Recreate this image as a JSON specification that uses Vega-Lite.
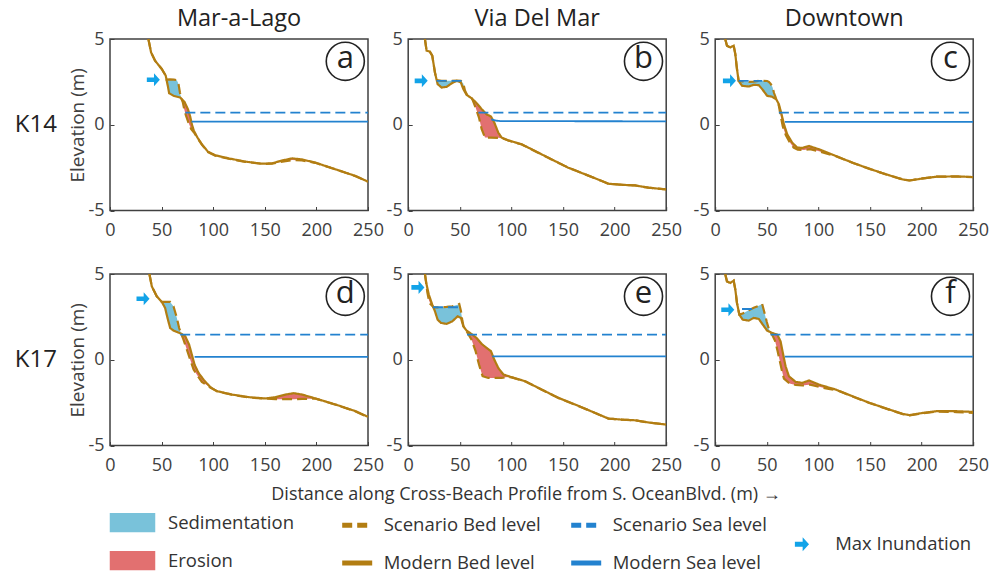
{
"$schema":"https://vega.github.io/schema/vega-lite/v6.json",
"padding":{"left":14,"top":6,"right":5,"bottom":5},
"background":"white",
"config":{
 "font":"Open Sans",
 "view":{"stroke":"#404040","strokeWidth":1.5},
 "axis":{"grid":false,"domain":false,"tickSize":-4,"tickColor":"#404040","tickWidth":1,"labelFontSize":18,"labelColor":"#404040","titleFontSize":19,"titleFontWeight":"normal","titleColor":"#404040","labelFlush":false},
 "header":{"labelFont":"Open Sans"}
},
"datasets":{
"panels":[{"p":"a","site":"K14","loc":"Mar-a-Lago"},{"p":"b","site":"K14","loc":"Via Del Mar"},{"p":"c","site":"K14","loc":"Downtown"},{"p":"d","site":"K17","loc":"Mar-a-Lago"},{"p":"e","site":"K17","loc":"Via Del Mar"},{"p":"f","site":"K17","loc":"Downtown"}],
"d":[
{"p":"a","k":"L"},{"p":"b","k":"L"},{"p":"c","k":"L"},{"p":"d","k":"L"},{"p":"e","k":"L"},{"p":"f","k":"L"},
{"p":"a","k":"mi","x":42,"y":2.62},{"p":"b","k":"mi","x":12.6,"y":2.56},{"p":"c","k":"mi","x":13.8,"y":2.56},{"p":"d","k":"mi","x":32,"y":3.56},{"p":"e","k":"mi","x":9.4,"y":4.22},{"p":"f","k":"mi","x":12.2,"y":2.92},
{"p":"a","k":"ms","g":1,"x":79,"y":0.18},{"p":"a","k":"ms","g":1,"x":250,"y":0.18},
{"p":"a","k":"ss","g":1,"x":73,"y":0.71},{"p":"a","k":"ss","g":1,"x":250,"y":0.71},
{"p":"b","k":"ms","g":1,"x":80.5,"y":0.32},{"p":"b","k":"ms","g":1,"x":85,"y":0.24},{"p":"b","k":"ms","g":1,"x":90,"y":0.21},{"p":"b","k":"ms","g":1,"x":250,"y":0.2},
{"p":"b","k":"ss","g":1,"x":68,"y":0.71},{"p":"b","k":"ss","g":1,"x":250,"y":0.71},
{"p":"b","k":"ss","g":2,"x":27.5,"y":2.56},{"p":"b","k":"ss","g":2,"x":55,"y":2.56},
{"p":"c","k":"ms","g":1,"x":67.5,"y":0.17},{"p":"c","k":"ms","g":1,"x":250,"y":0.17},
{"p":"c","k":"ss","g":1,"x":61.7,"y":0.71},{"p":"c","k":"ss","g":1,"x":250,"y":0.71},
{"p":"c","k":"ss","g":2,"x":22.7,"y":2.56},{"p":"c","k":"ss","g":2,"x":45.5,"y":2.56},
{"p":"d","k":"ms","g":1,"x":82,"y":0.17},{"p":"d","k":"ms","g":1,"x":250,"y":0.17},
{"p":"d","k":"ss","g":1,"x":68,"y":1.47},{"p":"d","k":"ss","g":1,"x":250,"y":1.47},
{"p":"e","k":"ms","g":1,"x":81.5,"y":0.2},{"p":"e","k":"ms","g":1,"x":250,"y":0.2},
{"p":"e","k":"ss","g":1,"x":57,"y":1.47},{"p":"e","k":"ss","g":1,"x":250,"y":1.47},
{"p":"e","k":"ss","g":2,"x":24,"y":3.06},{"p":"e","k":"ss","g":2,"x":48.5,"y":3.06},
{"p":"f","k":"ms","g":1,"x":67.5,"y":0.18},{"p":"f","k":"ms","g":1,"x":250,"y":0.18},
{"p":"f","k":"ss","g":1,"x":53.6,"y":1.47},{"p":"f","k":"ss","g":1,"x":250,"y":1.47},
{"p":"f","k":"ss","g":2,"x":26,"y":2.96},{"p":"f","k":"ss","g":2,"x":39,"y":2.96},

{"p":"a","k":"mb","x":37.2,"y":5},{"p":"a","k":"mb","x":39.8,"y":4.22},{"p":"a","k":"mb","x":43.7,"y":3.73},{"p":"a","k":"mb","x":50.2,"y":3.25},{"p":"a","k":"mb","x":54,"y":2.86},{"p":"a","k":"mb","x":56,"y":2.27},{"p":"a","k":"mb","x":57.3,"y":1.84},{"p":"a","k":"mb","x":61.5,"y":1.69},{"p":"a","k":"mb","x":68,"y":1.59},{"p":"a","k":"mb","x":72.2,"y":1.33},{"p":"a","k":"mb","x":75.5,"y":0.91},{"p":"a","k":"mb","x":77.7,"y":0.48},{"p":"a","k":"mb","x":79.3,"y":0.03},{"p":"a","k":"mb","x":81.3,"y":-0.36},{"p":"a","k":"mb","x":84.8,"y":-0.75},{"p":"a","k":"mb","x":89,"y":-1.14},{"p":"a","k":"mb","x":94.9,"y":-1.57},{"p":"a","k":"mb","x":102,"y":-1.78},{"p":"a","k":"mb","x":115,"y":-1.96},{"p":"a","k":"mb","x":131,"y":-2.15},{"p":"a","k":"mb","x":147,"y":-2.27},{"p":"a","k":"mb","x":157,"y":-2.25},{"p":"a","k":"mb","x":167,"y":-2.08},{"p":"a","k":"mb","x":176.5,"y":-1.96},{"p":"a","k":"mb","x":186,"y":-2.02},{"p":"a","k":"mb","x":199,"y":-2.21},{"p":"a","k":"mb","x":218.6,"y":-2.6},{"p":"a","k":"mb","x":238,"y":-2.99},{"p":"a","k":"mb","x":250,"y":-3.32},

{"p":"a","k":"sb","x":37.2,"y":5},{"p":"a","k":"sb","x":39.8,"y":4.22},{"p":"a","k":"sb","x":43.7,"y":3.73},{"p":"a","k":"sb","x":50.2,"y":3.25},{"p":"a","k":"sb","x":54,"y":2.86},{"p":"a","k":"sb","x":54.8,"y":2.63},{"p":"a","k":"sb","x":58,"y":2.64},{"p":"a","k":"sb","x":62,"y":2.63},{"p":"a","k":"sb","x":64.8,"y":2.6},{"p":"a","k":"sb","x":66.4,"y":2.37},{"p":"a","k":"sb","x":67.7,"y":1.9},{"p":"a","k":"sb","x":69,"y":1.55},{"p":"a","k":"sb","x":70.6,"y":1.3},{"p":"a","k":"sb","x":71.9,"y":0.91},{"p":"a","k":"sb","x":73.5,"y":0.56},{"p":"a","k":"sb","x":76,"y":0.13},{"p":"a","k":"sb","x":78.7,"y":-0.26},{"p":"a","k":"sb","x":82,"y":-0.5},{"p":"a","k":"sb","x":84.8,"y":-0.78},{"p":"a","k":"sb","x":89,"y":-1.16},{"p":"a","k":"sb","x":94.9,"y":-1.6},{"p":"a","k":"sb","x":102,"y":-1.8},{"p":"a","k":"sb","x":115,"y":-1.98},{"p":"a","k":"sb","x":131,"y":-2.16},{"p":"a","k":"sb","x":147,"y":-2.28},{"p":"a","k":"sb","x":157,"y":-2.27},{"p":"a","k":"sb","x":167,"y":-2.15},{"p":"a","k":"sb","x":176.5,"y":-2.06},{"p":"a","k":"sb","x":186,"y":-2.08},{"p":"a","k":"sb","x":199,"y":-2.22},{"p":"a","k":"sb","x":218.6,"y":-2.6},{"p":"a","k":"sb","x":238,"y":-3.0},{"p":"a","k":"sb","x":250,"y":-3.32},

{"p":"a","k":"sed","g":1,"x":54.8,"y":2.62,"y2":2.63},{"p":"a","k":"sed","g":1,"x":56,"y":2.27,"y2":2.64},{"p":"a","k":"sed","g":1,"x":57.3,"y":1.84,"y2":2.64},{"p":"a","k":"sed","g":1,"x":61.5,"y":1.69,"y2":2.63},{"p":"a","k":"sed","g":1,"x":64.8,"y":1.64,"y2":2.6},{"p":"a","k":"sed","g":1,"x":66.4,"y":1.61,"y2":2.37},{"p":"a","k":"sed","g":1,"x":67.7,"y":1.59,"y2":1.9},{"p":"a","k":"sed","g":1,"x":69,"y":1.55,"y2":1.55},
{"p":"a","k":"ero","g":2,"x":69,"y":1.55,"y2":1.55},{"p":"a","k":"ero","g":2,"x":70.6,"y":1.43,"y2":1.3},{"p":"a","k":"ero","g":2,"x":71.9,"y":1.35,"y2":0.91},{"p":"a","k":"ero","g":2,"x":73.5,"y":1.16,"y2":0.56},{"p":"a","k":"ero","g":2,"x":76,"y":0.81,"y2":0.13},{"p":"a","k":"ero","g":2,"x":78.7,"y":0.2,"y2":-0.26},{"p":"a","k":"ero","g":2,"x":82,"y":-0.44,"y2":-0.5},{"p":"a","k":"ero","g":2,"x":84.8,"y":-0.75,"y2":-0.78},
{"p":"a","k":"ero","g":3,"x":157,"y":-2.25,"y2":-2.27},{"p":"a","k":"ero","g":3,"x":167,"y":-2.08,"y2":-2.15},{"p":"a","k":"ero","g":3,"x":176.5,"y":-1.96,"y2":-2.06},{"p":"a","k":"ero","g":3,"x":186,"y":-2.02,"y2":-2.08},{"p":"a","k":"ero","g":3,"x":199,"y":-2.21,"y2":-2.22},

{"p":"b","k":"mb","x":16.2,"y":5},{"p":"b","k":"mb","x":17.8,"y":4.32},{"p":"b","k":"mb","x":21,"y":4.26},{"p":"b","k":"mb","x":23.3,"y":4.03},{"p":"b","k":"mb","x":25.9,"y":3.05},{"p":"b","k":"mb","x":28.5,"y":2.37},{"p":"b","k":"mb","x":32.3,"y":2.17},{"p":"b","k":"mb","x":37.2,"y":2.21},{"p":"b","k":"mb","x":42,"y":2.41},{"p":"b","k":"mb","x":46.9,"y":2.56},{"p":"b","k":"mb","x":51,"y":2.47},{"p":"b","k":"mb","x":53.4,"y":2.08},{"p":"b","k":"mb","x":56.6,"y":1.74},{"p":"b","k":"mb","x":61.4,"y":1.55},{"p":"b","k":"mb","x":66.3,"y":1.26},{"p":"b","k":"mb","x":71.2,"y":0.91},{"p":"b","k":"mb","x":76,"y":0.61},{"p":"b","k":"mb","x":80.2,"y":0.48},{"p":"b","k":"mb","x":83.4,"y":0.13},{"p":"b","k":"mb","x":87.3,"y":-0.46},{"p":"b","k":"mb","x":90.6,"y":-0.75},{"p":"b","k":"mb","x":97,"y":-0.91},{"p":"b","k":"mb","x":110,"y":-1.14},{"p":"b","k":"mb","x":122.9,"y":-1.53},{"p":"b","k":"mb","x":139,"y":-2.02},{"p":"b","k":"mb","x":155,"y":-2.5},{"p":"b","k":"mb","x":171.4,"y":-2.89},{"p":"b","k":"mb","x":187.6,"y":-3.28},{"p":"b","k":"mb","x":194,"y":-3.44},{"p":"b","k":"mb","x":207,"y":-3.5},{"p":"b","k":"mb","x":220,"y":-3.54},{"p":"b","k":"mb","x":232.9,"y":-3.67},{"p":"b","k":"mb","x":250,"y":-3.77},

{"p":"b","k":"sb","x":16.2,"y":5},{"p":"b","k":"sb","x":17.8,"y":4.32},{"p":"b","k":"sb","x":21,"y":4.26},{"p":"b","k":"sb","x":23.3,"y":4.03},{"p":"b","k":"sb","x":25.9,"y":3.05},{"p":"b","k":"sb","x":27.5,"y":2.6},{"p":"b","k":"sb","x":32.3,"y":2.56},{"p":"b","k":"sb","x":37.2,"y":2.56},{"p":"b","k":"sb","x":42,"y":2.56},{"p":"b","k":"sb","x":46.9,"y":2.57},{"p":"b","k":"sb","x":51,"y":2.56},{"p":"b","k":"sb","x":53.4,"y":2.4},{"p":"b","k":"sb","x":55,"y":2.0},{"p":"b","k":"sb","x":56.6,"y":1.8},{"p":"b","k":"sb","x":58.5,"y":1.66},{"p":"b","k":"sb","x":61.4,"y":1.55},{"p":"b","k":"sb","x":62.4,"y":1.45},{"p":"b","k":"sb","x":65.3,"y":1.0},{"p":"b","k":"sb","x":68.6,"y":0.42},{"p":"b","k":"sb","x":71.2,"y":-0.26},{"p":"b","k":"sb","x":74.4,"y":-0.75},{"p":"b","k":"sb","x":80.2,"y":-0.75},{"p":"b","k":"sb","x":87.3,"y":-0.76},{"p":"b","k":"sb","x":90.6,"y":-0.78},{"p":"b","k":"sb","x":97,"y":-0.92},{"p":"b","k":"sb","x":110,"y":-1.15},{"p":"b","k":"sb","x":122.9,"y":-1.54},{"p":"b","k":"sb","x":139,"y":-2.03},{"p":"b","k":"sb","x":155,"y":-2.5},{"p":"b","k":"sb","x":171.4,"y":-2.89},{"p":"b","k":"sb","x":187.6,"y":-3.28},{"p":"b","k":"sb","x":194,"y":-3.44},{"p":"b","k":"sb","x":207,"y":-3.5},{"p":"b","k":"sb","x":220,"y":-3.54},{"p":"b","k":"sb","x":232.9,"y":-3.67},{"p":"b","k":"sb","x":250,"y":-3.77},

{"p":"b","k":"sed","g":1,"x":27.5,"y":2.63,"y2":2.6},{"p":"b","k":"sed","g":1,"x":28.5,"y":2.37,"y2":2.57},{"p":"b","k":"sed","g":1,"x":32.3,"y":2.17,"y2":2.56},{"p":"b","k":"sed","g":1,"x":37.2,"y":2.21,"y2":2.56},{"p":"b","k":"sed","g":1,"x":42,"y":2.41,"y2":2.56},{"p":"b","k":"sed","g":1,"x":46.9,"y":2.56,"y2":2.57},{"p":"b","k":"sed","g":1,"x":51,"y":2.47,"y2":2.56},{"p":"b","k":"sed","g":1,"x":53.4,"y":2.08,"y2":2.4},{"p":"b","k":"sed","g":1,"x":55,"y":1.91,"y2":2.0},{"p":"b","k":"sed","g":1,"x":56.6,"y":1.74,"y2":1.8},{"p":"b","k":"sed","g":1,"x":58.5,"y":1.66,"y2":1.66},
{"p":"b","k":"ero","g":2,"x":61.4,"y":1.55,"y2":1.55},{"p":"b","k":"ero","g":2,"x":62.4,"y":1.49,"y2":1.45},{"p":"b","k":"ero","g":2,"x":65.3,"y":1.32,"y2":1.0},{"p":"b","k":"ero","g":2,"x":68.6,"y":1.1,"y2":0.42},{"p":"b","k":"ero","g":2,"x":71.2,"y":0.91,"y2":-0.26},{"p":"b","k":"ero","g":2,"x":74.4,"y":0.71,"y2":-0.75},{"p":"b","k":"ero","g":2,"x":76,"y":0.61,"y2":-0.75},{"p":"b","k":"ero","g":2,"x":80.2,"y":0.48,"y2":-0.75},{"p":"b","k":"ero","g":2,"x":83.4,"y":0.13,"y2":-0.75},{"p":"b","k":"ero","g":2,"x":87.3,"y":-0.46,"y2":-0.76},{"p":"b","k":"ero","g":2,"x":90.6,"y":-0.75,"y2":-0.78},

{"p":"c","k":"mb","x":9.7,"y":5},{"p":"c","k":"mb","x":11.4,"y":4.61},{"p":"c","k":"mb","x":14.6,"y":4.51},{"p":"c","k":"mb","x":17.9,"y":4.61},{"p":"c","k":"mb","x":19.5,"y":4.12},{"p":"c","k":"mb","x":21.1,"y":3.25},{"p":"c","k":"mb","x":22.7,"y":2.56},{"p":"c","k":"mb","x":26,"y":2.27},{"p":"c","k":"mb","x":32.5,"y":2.23},{"p":"c","k":"mb","x":37.3,"y":2.33},{"p":"c","k":"mb","x":42.2,"y":2.31},{"p":"c","k":"mb","x":45.5,"y":2.08},{"p":"c","k":"mb","x":50.3,"y":1.69},{"p":"c","k":"mb","x":55.2,"y":1.63},{"p":"c","k":"mb","x":59.1,"y":1.49},{"p":"c","k":"mb","x":61.7,"y":1.2},{"p":"c","k":"mb","x":64.3,"y":0.61},{"p":"c","k":"mb","x":66.6,"y":0.03},{"p":"c","k":"mb","x":69.8,"y":-0.56},{"p":"c","k":"mb","x":74.7,"y":-1.05},{"p":"c","k":"mb","x":79.5,"y":-1.33},{"p":"c","k":"mb","x":84.4,"y":-1.35},{"p":"c","k":"mb","x":90.9,"y":-1.24},{"p":"c","k":"mb","x":100.6,"y":-1.43},{"p":"c","k":"mb","x":116.9,"y":-1.82},{"p":"c","k":"mb","x":133,"y":-2.21},{"p":"c","k":"mb","x":149,"y":-2.56},{"p":"c","k":"mb","x":165.6,"y":-2.89},{"p":"c","k":"mb","x":181.8,"y":-3.19},{"p":"c","k":"mb","x":188.3,"y":-3.25},{"p":"c","k":"mb","x":201.3,"y":-3.13},{"p":"c","k":"mb","x":214.3,"y":-3.03},{"p":"c","k":"mb","x":233.8,"y":-3.01},{"p":"c","k":"mb","x":250,"y":-3.05},

{"p":"c","k":"sb","x":9.7,"y":5},{"p":"c","k":"sb","x":11.4,"y":4.61},{"p":"c","k":"sb","x":14.6,"y":4.51},{"p":"c","k":"sb","x":17.9,"y":4.61},{"p":"c","k":"sb","x":19.5,"y":4.12},{"p":"c","k":"sb","x":21.1,"y":3.25},{"p":"c","k":"sb","x":22.7,"y":2.56},{"p":"c","k":"sb","x":26,"y":2.53},{"p":"c","k":"sb","x":32.5,"y":2.5},{"p":"c","k":"sb","x":37.3,"y":2.52},{"p":"c","k":"sb","x":42.2,"y":2.56},{"p":"c","k":"sb","x":47,"y":2.56},{"p":"c","k":"sb","x":50.3,"y":2.55},{"p":"c","k":"sb","x":52,"y":2.5},{"p":"c","k":"sb","x":53.6,"y":2.4},{"p":"c","k":"sb","x":55.5,"y":2.2},{"p":"c","k":"sb","x":57,"y":1.85},{"p":"c","k":"sb","x":58.4,"y":1.62},{"p":"c","k":"sb","x":59.1,"y":1.49},{"p":"c","k":"sb","x":61.7,"y":1.1},{"p":"c","k":"sb","x":63.5,"y":0.5},{"p":"c","k":"sb","x":65.5,"y":-0.1},{"p":"c","k":"sb","x":68.5,"y":-0.62},{"p":"c","k":"sb","x":72,"y":-1.0},{"p":"c","k":"sb","x":76,"y":-1.33},{"p":"c","k":"sb","x":80,"y":-1.45},{"p":"c","k":"sb","x":86,"y":-1.47},{"p":"c","k":"sb","x":92,"y":-1.42},{"p":"c","k":"sb","x":100.6,"y":-1.55},{"p":"c","k":"sb","x":110,"y":-1.72},{"p":"c","k":"sb","x":116.9,"y":-1.83},{"p":"c","k":"sb","x":133,"y":-2.22},{"p":"c","k":"sb","x":149,"y":-2.56},{"p":"c","k":"sb","x":165.6,"y":-2.9},{"p":"c","k":"sb","x":181.8,"y":-3.19},{"p":"c","k":"sb","x":188.3,"y":-3.25},{"p":"c","k":"sb","x":201.3,"y":-3.13},{"p":"c","k":"sb","x":214.3,"y":-3.03},{"p":"c","k":"sb","x":233.8,"y":-3.02},{"p":"c","k":"sb","x":250,"y":-3.06},

{"p":"c","k":"sed","g":1,"x":22.7,"y":2.56,"y2":2.56},{"p":"c","k":"sed","g":1,"x":26,"y":2.27,"y2":2.53},{"p":"c","k":"sed","g":1,"x":32.5,"y":2.23,"y2":2.5},{"p":"c","k":"sed","g":1,"x":37.3,"y":2.33,"y2":2.52},{"p":"c","k":"sed","g":1,"x":42.2,"y":2.31,"y2":2.56},{"p":"c","k":"sed","g":1,"x":45.5,"y":2.08,"y2":2.56},{"p":"c","k":"sed","g":1,"x":47,"y":1.96,"y2":2.56},{"p":"c","k":"sed","g":1,"x":50.3,"y":1.69,"y2":2.55},{"p":"c","k":"sed","g":1,"x":52,"y":1.67,"y2":2.5},{"p":"c","k":"sed","g":1,"x":53.6,"y":1.65,"y2":2.4},{"p":"c","k":"sed","g":1,"x":55.5,"y":1.62,"y2":2.2},{"p":"c","k":"sed","g":1,"x":57,"y":1.57,"y2":1.85},{"p":"c","k":"sed","g":1,"x":58.4,"y":1.52,"y2":1.62},{"p":"c","k":"sed","g":1,"x":59.1,"y":1.49,"y2":1.49},
{"p":"c","k":"ero","g":2,"x":59.1,"y":1.49,"y2":1.49},{"p":"c","k":"ero","g":2,"x":61.7,"y":1.2,"y2":1.1},{"p":"c","k":"ero","g":2,"x":63.5,"y":0.79,"y2":0.5},{"p":"c","k":"ero","g":2,"x":65.5,"y":0.31,"y2":-0.1},{"p":"c","k":"ero","g":2,"x":68.5,"y":-0.32,"y2":-0.62},{"p":"c","k":"ero","g":2,"x":72,"y":-0.78,"y2":-1.0},{"p":"c","k":"ero","g":2,"x":76,"y":-1.13,"y2":-1.33},{"p":"c","k":"ero","g":2,"x":80,"y":-1.33,"y2":-1.45},{"p":"c","k":"ero","g":2,"x":86,"y":-1.32,"y2":-1.47},{"p":"c","k":"ero","g":2,"x":92,"y":-1.26,"y2":-1.42},{"p":"c","k":"ero","g":2,"x":100.6,"y":-1.43,"y2":-1.55},{"p":"c","k":"ero","g":2,"x":110,"y":-1.65,"y2":-1.72},{"p":"c","k":"ero","g":2,"x":116.9,"y":-1.82,"y2":-1.83},

{"p":"d","k":"mb","x":38.2,"y":5},{"p":"d","k":"mb","x":40.5,"y":4.28},{"p":"d","k":"mb","x":45.3,"y":3.7},{"p":"d","k":"mb","x":50.2,"y":3.37},{"p":"d","k":"mb","x":53.4,"y":3.02},{"p":"d","k":"mb","x":55.7,"y":2.44},{"p":"d","k":"mb","x":58.3,"y":1.85},{"p":"d","k":"mb","x":61.5,"y":1.7},{"p":"d","k":"mb","x":69,"y":1.52},{"p":"d","k":"mb","x":72.9,"y":1.37},{"p":"d","k":"mb","x":76.7,"y":0.88},{"p":"d","k":"mb","x":79.3,"y":0.3},{"p":"d","k":"mb","x":81.9,"y":-0.28},{"p":"d","k":"mb","x":85.8,"y":-0.77},{"p":"d","k":"mb","x":90.7,"y":-1.16},{"p":"d","k":"mb","x":97.2,"y":-1.6},{"p":"d","k":"mb","x":103.6,"y":-1.83},{"p":"d","k":"mb","x":118.2,"y":-2.03},{"p":"d","k":"mb","x":134.4,"y":-2.18},{"p":"d","k":"mb","x":150.6,"y":-2.26},{"p":"d","k":"mb","x":160.3,"y":-2.18},{"p":"d","k":"mb","x":170,"y":-2.03},{"p":"d","k":"mb","x":178.1,"y":-1.95},{"p":"d","k":"mb","x":186.2,"y":-2.03},{"p":"d","k":"mb","x":199.2,"y":-2.26},{"p":"d","k":"mb","x":218.6,"y":-2.61},{"p":"d","k":"mb","x":238,"y":-3.0},{"p":"d","k":"mb","x":250,"y":-3.33},

{"p":"d","k":"sb","x":38.2,"y":5},{"p":"d","k":"sb","x":40.5,"y":4.28},{"p":"d","k":"sb","x":45.3,"y":3.7},{"p":"d","k":"sb","x":50.2,"y":3.37},{"p":"d","k":"sb","x":52.5,"y":3.37},{"p":"d","k":"sb","x":55,"y":3.37},{"p":"d","k":"sb","x":58.3,"y":3.37},{"p":"d","k":"sb","x":61.5,"y":3.12},{"p":"d","k":"sb","x":64.8,"y":2.44},{"p":"d","k":"sb","x":67,"y":1.85},{"p":"d","k":"sb","x":69,"y":1.52},{"p":"d","k":"sb","x":71.2,"y":1.17},{"p":"d","k":"sb","x":74.5,"y":0.59},{"p":"d","k":"sb","x":77.7,"y":0.01},{"p":"d","k":"sb","x":81,"y":-0.57},{"p":"d","k":"sb","x":85.8,"y":-1.02},{"p":"d","k":"sb","x":89,"y":-1.29},{"p":"d","k":"sb","x":93,"y":-1.45},{"p":"d","k":"sb","x":97.2,"y":-1.62},{"p":"d","k":"sb","x":103.6,"y":-1.84},{"p":"d","k":"sb","x":118.2,"y":-2.04},{"p":"d","k":"sb","x":134.4,"y":-2.2},{"p":"d","k":"sb","x":150.6,"y":-2.27},{"p":"d","k":"sb","x":160.3,"y":-2.3},{"p":"d","k":"sb","x":170,"y":-2.3},{"p":"d","k":"sb","x":178.1,"y":-2.3},{"p":"d","k":"sb","x":186.2,"y":-2.28},{"p":"d","k":"sb","x":199.2,"y":-2.27},{"p":"d","k":"sb","x":218.6,"y":-2.62},{"p":"d","k":"sb","x":238,"y":-3.02},{"p":"d","k":"sb","x":250,"y":-3.35},

{"p":"d","k":"sed","g":1,"x":50.2,"y":3.37,"y2":3.37},{"p":"d","k":"sed","g":1,"x":52.5,"y":3.12,"y2":3.37},{"p":"d","k":"sed","g":1,"x":53.4,"y":3.02,"y2":3.37},{"p":"d","k":"sed","g":1,"x":55.7,"y":2.44,"y2":3.37},{"p":"d","k":"sed","g":1,"x":58.3,"y":1.85,"y2":3.37},{"p":"d","k":"sed","g":1,"x":61.5,"y":1.7,"y2":3.12},{"p":"d","k":"sed","g":1,"x":64.8,"y":1.62,"y2":2.44},{"p":"d","k":"sed","g":1,"x":67,"y":1.57,"y2":1.85},{"p":"d","k":"sed","g":1,"x":69,"y":1.52,"y2":1.52},
{"p":"d","k":"ero","g":2,"x":69,"y":1.52,"y2":1.52},{"p":"d","k":"ero","g":2,"x":71.2,"y":1.44,"y2":1.17},{"p":"d","k":"ero","g":2,"x":72.9,"y":1.37,"y2":0.87},{"p":"d","k":"ero","g":2,"x":74.5,"y":1.16,"y2":0.59},{"p":"d","k":"ero","g":2,"x":76.7,"y":0.88,"y2":0.19},{"p":"d","k":"ero","g":2,"x":77.7,"y":0.66,"y2":0.01},{"p":"d","k":"ero","g":2,"x":79.3,"y":0.3,"y2":-0.27},{"p":"d","k":"ero","g":2,"x":81,"y":-0.08,"y2":-0.57},{"p":"d","k":"ero","g":2,"x":85.8,"y":-0.77,"y2":-1.02},{"p":"d","k":"ero","g":2,"x":89,"y":-1.02,"y2":-1.29},{"p":"d","k":"ero","g":2,"x":93,"y":-1.32,"y2":-1.45},{"p":"d","k":"ero","g":2,"x":97.2,"y":-1.6,"y2":-1.62},
{"p":"d","k":"ero","g":3,"x":150.6,"y":-2.26,"y2":-2.27},{"p":"d","k":"ero","g":3,"x":160.3,"y":-2.18,"y2":-2.3},{"p":"d","k":"ero","g":3,"x":170,"y":-2.03,"y2":-2.3},{"p":"d","k":"ero","g":3,"x":178.1,"y":-1.95,"y2":-2.3},{"p":"d","k":"ero","g":3,"x":186.2,"y":-2.03,"y2":-2.28},{"p":"d","k":"ero","g":3,"x":199.2,"y":-2.26,"y2":-2.27},

{"p":"e","k":"mb","x":16.2,"y":5},{"p":"e","k":"mb","x":17.8,"y":4.38},{"p":"e","k":"mb","x":20,"y":3.8},{"p":"e","k":"mb","x":23.3,"y":3.21},{"p":"e","k":"mb","x":25.9,"y":2.83},{"p":"e","k":"mb","x":28.5,"y":2.34},{"p":"e","k":"mb","x":31.7,"y":2.15},{"p":"e","k":"mb","x":37.2,"y":2.09},{"p":"e","k":"mb","x":42.7,"y":2.24},{"p":"e","k":"mb","x":47.9,"y":2.53},{"p":"e","k":"mb","x":51.1,"y":2.44},{"p":"e","k":"mb","x":53.4,"y":1.95},{"p":"e","k":"mb","x":56.6,"y":1.7},{"p":"e","k":"mb","x":61.4,"y":1.5},{"p":"e","k":"mb","x":66.3,"y":1.27},{"p":"e","k":"mb","x":71.2,"y":0.92},{"p":"e","k":"mb","x":76,"y":0.69},{"p":"e","k":"mb","x":80.2,"y":0.5},{"p":"e","k":"mb","x":83.4,"y":0.01},{"p":"e","k":"mb","x":87.3,"y":-0.48},{"p":"e","k":"mb","x":92.2,"y":-0.86},{"p":"e","k":"mb","x":100.3,"y":-1.02},{"p":"e","k":"mb","x":113.2,"y":-1.25},{"p":"e","k":"mb","x":129.4,"y":-1.74},{"p":"e","k":"mb","x":145.5,"y":-2.22},{"p":"e","k":"mb","x":161.7,"y":-2.61},{"p":"e","k":"mb","x":181.1,"y":-3.1},{"p":"e","k":"mb","x":194,"y":-3.43},{"p":"e","k":"mb","x":207,"y":-3.49},{"p":"e","k":"mb","x":220,"y":-3.53},{"p":"e","k":"mb","x":232.9,"y":-3.66},{"p":"e","k":"mb","x":250,"y":-3.78},

{"p":"e","k":"sb","x":16.2,"y":5},{"p":"e","k":"sb","x":17.2,"y":4.55},{"p":"e","k":"sb","x":18.5,"y":3.95},{"p":"e","k":"sb","x":20,"y":3.5},{"p":"e","k":"sb","x":21.5,"y":3.25},{"p":"e","k":"sb","x":23.3,"y":3.15},{"p":"e","k":"sb","x":24.3,"y":3.08},{"p":"e","k":"sb","x":26,"y":3.05},{"p":"e","k":"sb","x":31.7,"y":3.05},{"p":"e","k":"sb","x":37.2,"y":3.08},{"p":"e","k":"sb","x":42.7,"y":3.12},{"p":"e","k":"sb","x":47.9,"y":3.2},{"p":"e","k":"sb","x":49.5,"y":3.25},{"p":"e","k":"sb","x":51.1,"y":2.85},{"p":"e","k":"sb","x":52.4,"y":2.3},{"p":"e","k":"sb","x":53.6,"y":1.95},{"p":"e","k":"sb","x":56.6,"y":1.66},{"p":"e","k":"sb","x":61.4,"y":1.17},{"p":"e","k":"sb","x":65.3,"y":0.5},{"p":"e","k":"sb","x":68.6,"y":-0.28},{"p":"e","k":"sb","x":72.1,"y":-0.96},{"p":"e","k":"sb","x":77.6,"y":-1.06},{"p":"e","k":"sb","x":90.6,"y":-1.06},{"p":"e","k":"sb","x":97,"y":-1.0},{"p":"e","k":"sb","x":100.3,"y":-1.03},{"p":"e","k":"sb","x":113.2,"y":-1.26},{"p":"e","k":"sb","x":129.4,"y":-1.75},{"p":"e","k":"sb","x":145.5,"y":-2.23},{"p":"e","k":"sb","x":161.7,"y":-2.62},{"p":"e","k":"sb","x":181.1,"y":-3.1},{"p":"e","k":"sb","x":194,"y":-3.43},{"p":"e","k":"sb","x":207,"y":-3.49},{"p":"e","k":"sb","x":220,"y":-3.53},{"p":"e","k":"sb","x":232.9,"y":-3.66},{"p":"e","k":"sb","x":250,"y":-3.78},

{"p":"e","k":"ero","g":1,"x":16.2,"y":5,"y2":5},{"p":"e","k":"ero","g":1,"x":17.2,"y":4.61,"y2":4.55},{"p":"e","k":"ero","g":1,"x":17.8,"y":4.38,"y2":4.27},{"p":"e","k":"ero","g":1,"x":18.5,"y":4.2,"y2":3.95},{"p":"e","k":"ero","g":1,"x":20,"y":3.8,"y2":3.5},{"p":"e","k":"ero","g":1,"x":21.5,"y":3.53,"y2":3.25},{"p":"e","k":"ero","g":1,"x":23.3,"y":3.21,"y2":3.15},{"p":"e","k":"ero","g":1,"x":24,"y":3.11,"y2":3.1},
{"p":"e","k":"sed","g":2,"x":24,"y":3.11,"y2":3.1},{"p":"e","k":"sed","g":2,"x":25.9,"y":2.83,"y2":3.05},{"p":"e","k":"sed","g":2,"x":28.5,"y":2.34,"y2":3.05},{"p":"e","k":"sed","g":2,"x":31.7,"y":2.15,"y2":3.05},{"p":"e","k":"sed","g":2,"x":37.2,"y":2.09,"y2":3.08},{"p":"e","k":"sed","g":2,"x":42.7,"y":2.24,"y2":3.12},{"p":"e","k":"sed","g":2,"x":47.9,"y":2.53,"y2":3.2},{"p":"e","k":"sed","g":2,"x":49.5,"y":2.49,"y2":3.25},{"p":"e","k":"sed","g":2,"x":51.1,"y":2.44,"y2":2.85},{"p":"e","k":"sed","g":2,"x":52.4,"y":2.16,"y2":2.3},{"p":"e","k":"sed","g":2,"x":53.6,"y":1.93,"y2":1.95},
{"p":"e","k":"ero","g":3,"x":56.6,"y":1.7,"y2":1.66},{"p":"e","k":"ero","g":3,"x":61.4,"y":1.5,"y2":1.17},{"p":"e","k":"ero","g":3,"x":65.3,"y":1.32,"y2":0.5},{"p":"e","k":"ero","g":3,"x":68.6,"y":1.1,"y2":-0.28},{"p":"e","k":"ero","g":3,"x":72.1,"y":0.88,"y2":-0.96},{"p":"e","k":"ero","g":3,"x":76,"y":0.69,"y2":-1.02},{"p":"e","k":"ero","g":3,"x":77.6,"y":0.62,"y2":-1.06},{"p":"e","k":"ero","g":3,"x":80.2,"y":0.5,"y2":-1.06},{"p":"e","k":"ero","g":3,"x":83.4,"y":0.01,"y2":-1.06},{"p":"e","k":"ero","g":3,"x":87.3,"y":-0.48,"y2":-1.06},{"p":"e","k":"ero","g":3,"x":90.6,"y":-0.74,"y2":-1.06},{"p":"e","k":"ero","g":3,"x":92.2,"y":-0.86,"y2":-1.04},{"p":"e","k":"ero","g":3,"x":97,"y":-0.95,"y2":-1.0},{"p":"e","k":"ero","g":3,"x":100.3,"y":-1.02,"y2":-1.03},

{"p":"f","k":"mb","x":9.7,"y":5},{"p":"f","k":"mb","x":11.4,"y":4.57},{"p":"f","k":"mb","x":14.6,"y":4.48},{"p":"f","k":"mb","x":17.9,"y":4.61},{"p":"f","k":"mb","x":19.5,"y":4.09},{"p":"f","k":"mb","x":21.1,"y":3.31},{"p":"f","k":"mb","x":23.4,"y":2.63},{"p":"f","k":"mb","x":26.6,"y":2.34},{"p":"f","k":"mb","x":32.5,"y":2.28},{"p":"f","k":"mb","x":37.3,"y":2.44},{"p":"f","k":"mb","x":42.2,"y":2.38},{"p":"f","k":"mb","x":46.1,"y":2.05},{"p":"f","k":"mb","x":50.3,"y":1.7},{"p":"f","k":"mb","x":55.2,"y":1.56},{"p":"f","k":"mb","x":60.1,"y":1.47},{"p":"f","k":"mb","x":63.3,"y":1.08},{"p":"f","k":"mb","x":65.9,"y":0.3},{"p":"f","k":"mb","x":68.2,"y":-0.38},{"p":"f","k":"mb","x":71.4,"y":-0.96},{"p":"f","k":"mb","x":77.9,"y":-1.29},{"p":"f","k":"mb","x":84.4,"y":-1.35},{"p":"f","k":"mb","x":90.9,"y":-1.21},{"p":"f","k":"mb","x":100.6,"y":-1.45},{"p":"f","k":"mb","x":116.9,"y":-1.74},{"p":"f","k":"mb","x":133.1,"y":-2.13},{"p":"f","k":"mb","x":149.4,"y":-2.51},{"p":"f","k":"mb","x":165.6,"y":-2.84},{"p":"f","k":"mb","x":181.8,"y":-3.16},{"p":"f","k":"mb","x":188.3,"y":-3.23},{"p":"f","k":"mb","x":201.3,"y":-3.1},{"p":"f","k":"mb","x":214.3,"y":-3.0},{"p":"f","k":"mb","x":233.8,"y":-3.0},{"p":"f","k":"mb","x":250,"y":-3.04},

{"p":"f","k":"sb","x":9.7,"y":5},{"p":"f","k":"sb","x":11.4,"y":4.57},{"p":"f","k":"sb","x":14.6,"y":4.48},{"p":"f","k":"sb","x":17.9,"y":4.61},{"p":"f","k":"sb","x":19.5,"y":4.09},{"p":"f","k":"sb","x":21.1,"y":3.31},{"p":"f","k":"sb","x":23.4,"y":2.63},{"p":"f","k":"sb","x":26.6,"y":2.7},{"p":"f","k":"sb","x":32.5,"y":2.88},{"p":"f","k":"sb","x":37.3,"y":3.03},{"p":"f","k":"sb","x":42.2,"y":3.15},{"p":"f","k":"sb","x":45.5,"y":3.25},{"p":"f","k":"sb","x":47.5,"y":2.8},{"p":"f","k":"sb","x":50,"y":2.2},{"p":"f","k":"sb","x":52,"y":1.8},{"p":"f","k":"sb","x":53.5,"y":1.62},{"p":"f","k":"sb","x":55.2,"y":1.45},{"p":"f","k":"sb","x":58,"y":1.1},{"p":"f","k":"sb","x":60.5,"y":0.5},{"p":"f","k":"sb","x":62.5,"y":-0.05},{"p":"f","k":"sb","x":64.5,"y":-0.6},{"p":"f","k":"sb","x":66.6,"y":-1.1},{"p":"f","k":"sb","x":72,"y":-1.38},{"p":"f","k":"sb","x":78,"y":-1.47},{"p":"f","k":"sb","x":84.4,"y":-1.5},{"p":"f","k":"sb","x":92,"y":-1.45},{"p":"f","k":"sb","x":100.6,"y":-1.58},{"p":"f","k":"sb","x":110,"y":-1.7},{"p":"f","k":"sb","x":116.9,"y":-1.76},{"p":"f","k":"sb","x":133.1,"y":-2.14},{"p":"f","k":"sb","x":149.4,"y":-2.52},{"p":"f","k":"sb","x":165.6,"y":-2.85},{"p":"f","k":"sb","x":181.8,"y":-3.17},{"p":"f","k":"sb","x":188.3,"y":-3.24},{"p":"f","k":"sb","x":201.3,"y":-3.12},{"p":"f","k":"sb","x":214.3,"y":-3.03},{"p":"f","k":"sb","x":233.8,"y":-3.05},{"p":"f","k":"sb","x":250,"y":-3.1},

{"p":"f","k":"sed","g":1,"x":23.4,"y":2.63,"y2":2.63},{"p":"f","k":"sed","g":1,"x":26.6,"y":2.34,"y2":2.7},{"p":"f","k":"sed","g":1,"x":32.5,"y":2.28,"y2":2.88},{"p":"f","k":"sed","g":1,"x":37.3,"y":2.44,"y2":3.03},{"p":"f","k":"sed","g":1,"x":42.2,"y":2.38,"y2":3.15},{"p":"f","k":"sed","g":1,"x":45.5,"y":2.1,"y2":3.25},{"p":"f","k":"sed","g":1,"x":46.1,"y":2.05,"y2":3.12},{"p":"f","k":"sed","g":1,"x":47.5,"y":1.93,"y2":2.8},{"p":"f","k":"sed","g":1,"x":50,"y":1.72,"y2":2.2},{"p":"f","k":"sed","g":1,"x":52,"y":1.65,"y2":1.8},{"p":"f","k":"sed","g":1,"x":53.5,"y":1.61,"y2":1.62},
{"p":"f","k":"ero","g":2,"x":53.5,"y":1.61,"y2":1.61},{"p":"f","k":"ero","g":2,"x":55.2,"y":1.56,"y2":1.45},{"p":"f","k":"ero","g":2,"x":58,"y":1.51,"y2":1.1},{"p":"f","k":"ero","g":2,"x":60.1,"y":1.47,"y2":0.6},{"p":"f","k":"ero","g":2,"x":60.5,"y":1.42,"y2":0.5},{"p":"f","k":"ero","g":2,"x":62.5,"y":1.18,"y2":-0.05},{"p":"f","k":"ero","g":2,"x":63.3,"y":1.08,"y2":-0.27},{"p":"f","k":"ero","g":2,"x":64.5,"y":0.72,"y2":-0.6},{"p":"f","k":"ero","g":2,"x":65.9,"y":0.3,"y2":-0.93},{"p":"f","k":"ero","g":2,"x":66.6,"y":0.09,"y2":-1.1},{"p":"f","k":"ero","g":2,"x":68.2,"y":-0.38,"y2":-1.18},{"p":"f","k":"ero","g":2,"x":71.4,"y":-0.96,"y2":-1.35},{"p":"f","k":"ero","g":2,"x":72,"y":-0.99,"y2":-1.38},{"p":"f","k":"ero","g":2,"x":77.9,"y":-1.29,"y2":-1.47},{"p":"f","k":"ero","g":2,"x":84.4,"y":-1.35,"y2":-1.5},{"p":"f","k":"ero","g":2,"x":90.9,"y":-1.21,"y2":-1.46},{"p":"f","k":"ero","g":2,"x":100.6,"y":-1.45,"y2":-1.58},{"p":"f","k":"ero","g":2,"x":110,"y":-1.62,"y2":-1.7},{"p":"f","k":"ero","g":2,"x":116.9,"y":-1.74,"y2":-1.76}
]},
"vconcat":[
{
"title":{"text":"Distance along Cross-Beach Profile from S. OceanBlvd. (m) →","orient":"bottom","anchor":"middle","fontSize":18,"fontWeight":"normal","color":"#333","offset":11,"dx":24},
"bounds":"flush",
"spacing":298.2,
"hconcat":[
{
 "data":{"name":"d"},
 "transform":[{"filter":"datum.p=='a'||datum.p=='d'"},{"lookup":"p","from":{"data":{"name":"panels"},"key":"p","fields":["site","loc"]}}],
 "facet":{
  "row":{"field":"site","type":"nominal","header":{"title":null,"labelAngle":0,"labelOrient":"left","labelBaseline":"middle","labelFontSize":24,"labelColor":"#222","labelPadding":11}},
  "column":{"field":"loc","type":"nominal","header":{"title":null,"labelFontSize":23.5,"labelColor":"#222","labelPadding":9}}
 },
 "bounds":"flush",
 "spacing":{"row":63},
 "resolve":{"axis":{"x":"independent","y":"independent"}},
 "spec":{
  "width":258,"height":171.5,
  "layer":[
   {"transform":[{"filter":"datum.k=='sed'||datum.k=='ero'"}],"mark":{"type":"area","opacity":1,"clip":true},
    "encoding":{
     "x":{"field":"x","type":"quantitative","scale":{"domain":[0,250],"nice":false},"axis":{"values":[0,50,100,150,200,250],"title":null,"labelPadding":15,"labelFontSize":18}},
     "y":{"field":"y","type":"quantitative","stack":null,"scale":{"domain":[-5,5],"nice":false},"axis":{"values":[-5,0,5],"title":"Elevation (m)","labelPadding":10,"titlePadding":0,"labelFontSize":18,"titleFontSize":19,"labelExpr":"replace(datum.label, '−', '-')"}},
     "y2":{"field":"y2"},"detail":{"field":"g"},
     "fill":{"field":"k","type":"nominal","scale":{"domain":["sed","ero"],"range":["#79c2da","#e27070"]},
      "legend":{"orient":"none","legendX":5,"legendY":466,"title":null,"direction":"vertical","symbolType":"M-1.3,-0.55H1.3V0.55H-1.3Z","symbolSize":1225,"symbolStrokeWidth":0,"symbolOpacity":1,"labelFontSize":18.5,"labelColor":"#333","labelOffset":18,"rowPadding":10,"padding":0,
       "labelExpr":"datum.value=='sed'?'Sedimentation':'Erosion'"}}}},
   {"transform":[{"filter":"datum.k=='mb'||datum.k=='sb'"}],"mark":{"type":"line","strokeWidth":2.2,"clip":true},
    "encoding":{"x":{"field":"x","type":"quantitative","scale":{"domain":[0,250],"nice":false}},"y":{"field":"y","type":"quantitative","scale":{"domain":[-5,5],"nice":false}},
     "stroke":{"field":"k","type":"nominal","scale":{"domain":["sb","ss","mb","ms"],"range":["#b27d12","#2382cf","#b27d12","#2382cf"]},
      "legend":{"orient":"none","legendX":229.7,"legendY":468.5,"title":null,"columns":2,"direction":"horizontal","symbolType":"stroke","symbolSize":900,"symbolStrokeWidth":5,"labelFontSize":18.5,"labelColor":"#333","labelOffset":9,"columnPadding":19,"rowPadding":10,"padding":0,
       "labelExpr":"datum.value=='sb'?'Scenario Bed level':datum.value=='mb'?'Modern Bed level':datum.value=='ss'?'Scenario Sea level':'Modern Sea level'"}},
     "strokeDash":{"field":"k","type":"nominal","scale":{"domain":["sb","ss","mb","ms"],"range":[[10,5],[10,5],[1,0],[1,0]]},
      "legend":{"orient":"none","legendX":229.7,"legendY":468.5,"title":null,"columns":2,"direction":"horizontal","symbolType":"stroke","symbolSize":900,"symbolStrokeWidth":5,"labelFontSize":18.5,"labelColor":"#333","labelOffset":9,"columnPadding":19,"rowPadding":10,"padding":0,
       "labelExpr":"datum.value=='sb'?'Scenario Bed level':datum.value=='mb'?'Modern Bed level':datum.value=='ss'?'Scenario Sea level':'Modern Sea level'"}}}},
   {"transform":[{"filter":"datum.k=='ms'||datum.k=='ss'"}],"mark":{"type":"line","strokeWidth":1.8,"clip":true},
    "encoding":{"x":{"field":"x","type":"quantitative","scale":{"domain":[0,250],"nice":false}},"y":{"field":"y","type":"quantitative","scale":{"domain":[-5,5],"nice":false}},
     "stroke":{"field":"k","type":"nominal","scale":{"domain":["sb","ss","mb","ms"],"range":["#b27d12","#2382cf","#b27d12","#2382cf"]}},
     "strokeDash":{"field":"k","type":"nominal","scale":{"domain":["sb","ss","mb","ms"],"range":[[10,5],[10,5],[1,0],[1,0]]}},
     "detail":{"field":"g"}}},
   {"transform":[{"filter":"datum.k=='mi'"}],"mark":{"type":"point","filled":true,"opacity":1,"size":170,"shape":"M-1,-0.35H0.1V-1L1,0L0.1,1V0.35H-1Z"},
    "encoding":{"x":{"field":"x","type":"quantitative","scale":{"domain":[0,250],"nice":false}},"y":{"field":"y","type":"quantitative","scale":{"domain":[-5,5],"nice":false}},
     "color":{"field":"k","type":"nominal","scale":{"domain":["mi"],"range":["#12a3e8"]},
      "legend":{"orient":"none","legendX":682.7,"legendY":496,"title":null,"symbolType":"M-1,-0.35H0.1V-1L1,0L0.1,1V0.35H-1Z","symbolSize":200,"symbolOpacity":1,"labelFontSize":18.5,"labelColor":"#333","labelOffset":24,"padding":0,"labelExpr":"'Max Inundation'"}}}},
   {"transform":[{"filter":"datum.k=='L'"}],"mark":{"type":"point","shape":"circle","size":1450,"stroke":"#222","strokeWidth":1.6,"filled":false,"opacity":1},"encoding":{"x":{"datum":228,"type":"quantitative"},"y":{"datum":3.7,"type":"quantitative"}}},
   {"transform":[{"filter":"datum.k=='L'"}],"mark":{"type":"text","fontSize":31,"color":"#222","align":"center","baseline":"middle","dy":-2},"encoding":{"x":{"datum":228,"type":"quantitative"},"y":{"datum":3.7,"type":"quantitative"},"text":{"field":"p"}}}
  ]
 }
},
{
 "data":{"name":"d"},
 "transform":[{"filter":"datum.p!='a'&&datum.p!='d'"},{"lookup":"p","from":{"data":{"name":"panels"},"key":"p","fields":["site","loc"]}}],
 "facet":{
  "row":{"field":"site","type":"nominal","header":{"title":null,"labels":false}},
  "column":{"field":"loc","type":"nominal","sort":["Via Del Mar","Downtown"],"header":{"title":null,"labelFontSize":23.5,"labelColor":"#222","labelPadding":9}}
 },
 "bounds":"flush",
 "spacing":{"row":63,"column":49},
 "resolve":{"axis":{"x":"independent","y":"independent"}},
 "spec":{
  "width":258,"height":171.5,
  "layer":[
   {"transform":[{"filter":"datum.k=='sed'||datum.k=='ero'"}],"mark":{"type":"area","opacity":1,"clip":true},
    "encoding":{
     "x":{"field":"x","type":"quantitative","scale":{"domain":[0,250],"nice":false},"axis":{"values":[0,50,100,150,200,250],"title":null,"labelPadding":15,"labelFontSize":18}},
     "y":{"field":"y","type":"quantitative","stack":null,"scale":{"domain":[-5,5],"nice":false},"axis":{"values":[-5,0,5],"title":null,"labelPadding":10,"labelFontSize":18,"labelExpr":"replace(datum.label, '−', '-')"}},
     "y2":{"field":"y2"},"detail":{"field":"g"},
     "fill":{"field":"k","type":"nominal","scale":{"domain":["sed","ero"],"range":["#79c2da","#e27070"]}}}},
   {"transform":[{"filter":"datum.k=='mb'||datum.k=='sb'"}],"mark":{"type":"line","strokeWidth":2.2,"clip":true},
    "encoding":{"x":{"field":"x","type":"quantitative","scale":{"domain":[0,250],"nice":false}},"y":{"field":"y","type":"quantitative","scale":{"domain":[-5,5],"nice":false}},
     "stroke":{"field":"k","type":"nominal","scale":{"domain":["sb","ss","mb","ms"],"range":["#b27d12","#2382cf","#b27d12","#2382cf"]}},
     "strokeDash":{"field":"k","type":"nominal","scale":{"domain":["sb","ss","mb","ms"],"range":[[10,5],[10,5],[1,0],[1,0]]}}}},
   {"transform":[{"filter":"datum.k=='ms'||datum.k=='ss'"}],"mark":{"type":"line","strokeWidth":1.8,"clip":true},
    "encoding":{"x":{"field":"x","type":"quantitative","scale":{"domain":[0,250],"nice":false}},"y":{"field":"y","type":"quantitative","scale":{"domain":[-5,5],"nice":false}},
     "stroke":{"field":"k","type":"nominal","scale":{"domain":["sb","ss","mb","ms"],"range":["#b27d12","#2382cf","#b27d12","#2382cf"]}},
     "strokeDash":{"field":"k","type":"nominal","scale":{"domain":["sb","ss","mb","ms"],"range":[[10,5],[10,5],[1,0],[1,0]]}},
     "detail":{"field":"g"}}},
   {"transform":[{"filter":"datum.k=='mi'"}],"mark":{"type":"point","filled":true,"opacity":1,"size":170,"shape":"M-1,-0.35H0.1V-1L1,0L0.1,1V0.35H-1Z"},
    "encoding":{"x":{"field":"x","type":"quantitative","scale":{"domain":[0,250],"nice":false}},"y":{"field":"y","type":"quantitative","scale":{"domain":[-5,5],"nice":false}},
     "color":{"field":"k","type":"nominal","scale":{"domain":["mi"],"range":["#12a3e8"]}}}},
   {"transform":[{"filter":"datum.k=='L'"}],"mark":{"type":"point","shape":"circle","size":1450,"stroke":"#222","strokeWidth":1.6,"filled":false,"opacity":1},"encoding":{"x":{"datum":228,"type":"quantitative"},"y":{"datum":3.7,"type":"quantitative"}}},
   {"transform":[{"filter":"datum.k=='L'"}],"mark":{"type":"text","fontSize":31,"color":"#222","align":"center","baseline":"middle","dy":-2},"encoding":{"x":{"datum":228,"type":"quantitative"},"y":{"datum":3.7,"type":"quantitative"},"text":{"field":"p"}}}
  ]
 }
}
]
}
]
}
